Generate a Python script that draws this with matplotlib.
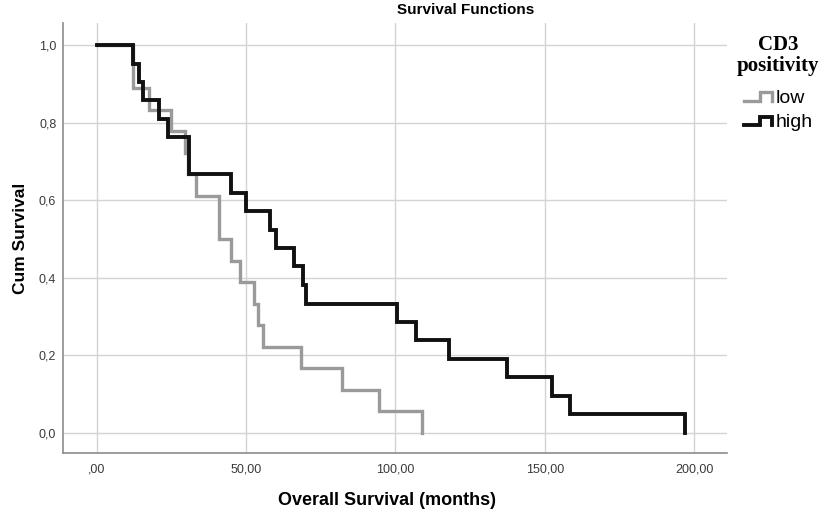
import matplotlib
matplotlib.use("Agg")
import matplotlib.pyplot as plt
from matplotlib.legend_handler import HandlerBase
from matplotlib.lines import Line2D

# step points (months, cumulative survival)
low_time = [0, 12, 17.5, 25, 29.5, 30.5, 33.3, 41, 45, 48, 52.8, 54, 55.5, 68.5, 82, 94.5, 109]
low_surv = [1.0, 0.889, 0.833, 0.778, 0.722, 0.667, 0.611, 0.5, 0.444, 0.389,
            0.333, 0.278, 0.222, 0.167, 0.111, 0.056, 0.0]

high_time = [0, 12, 14, 15.5, 21, 24, 31, 45, 50, 58, 60, 66, 69, 70,
             100.5, 107, 118, 137.5, 152.5, 158.5, 197]
high_surv = [1.0, 0.952, 0.905, 0.857, 0.810, 0.762, 0.667, 0.619, 0.571, 0.524,
             0.476, 0.429, 0.381, 0.333, 0.286, 0.238, 0.190, 0.143, 0.095, 0.048, 0.0]

x_ticks = [0, 50, 100, 150, 200]
x_labels = [",00", "50,00", "100,00", "150,00", "200,00"]
y_ticks = [0.0, 0.2, 0.4, 0.6, 0.8, 1.0]
y_labels = ["0,0", "0,2", "0,4", "0,6", "0,8", "1,0"]

plt.rcParams["font.family"] = ["Liberation Sans", "DejaVu Sans"]


class StepHandler(HandlerBase):
    # little step-shaped legend key like SPSS draws
    def create_artists(self, legend, orig_handle, xdescent, ydescent,
                       width, height, fontsize, trans):
        x0 = -xdescent
        y0 = -ydescent
        xs = [x0, x0 + 0.55 * width, x0 + 0.55 * width, x0 + width, x0 + width]
        ys = [y0 + 0.15 * height, y0 + 0.15 * height, y0 + 0.75 * height,
              y0 + 0.75 * height, y0 + 0.15 * height]
        ln = Line2D(xs, ys, color=orig_handle.get_color(),
                    lw=orig_handle.get_linewidth(), solid_joinstyle="miter")
        ln.set_transform(trans)
        return [ln]


fig = plt.figure(figsize=(8.25, 5.17), dpi=100)
ax = fig.add_axes([0.0767, 0.1232, 0.8041, 0.8329])

low_line, = ax.step(low_time, low_surv, where="post", color="#9a9a9a", lw=2.4,
                    solid_joinstyle="miter", label="low", zorder=3)
high_line, = ax.step(high_time, high_surv, where="post", color="#111111", lw=2.8,
                     solid_joinstyle="miter", label="high", zorder=4)

ax.set_xlim(-11.2, 210.9)
ax.set_ylim(-0.053, 1.0575)
ax.set_xticks(x_ticks)
ax.set_xticklabels(x_labels)
ax.set_yticks(y_ticks)
ax.set_yticklabels(y_labels)
ax.tick_params(length=0, labelsize=9, labelcolor="#3a3a3a")
ax.tick_params(axis="y", pad=5)
ax.tick_params(axis="x", pad=7)
ax.grid(True, color="#d4d4d4", lw=1.0)
ax.set_axisbelow(True)

for s in ["top", "right"]:
    ax.spines[s].set_visible(False)
for s in ["left", "bottom"]:
    ax.spines[s].set_color("#8c8c8c")
    ax.spines[s].set_linewidth(1.2)

ax.set_xlabel("Overall Survival (months)", fontsize=13, fontweight="bold")
ax.set_ylabel("Cum Survival", fontsize=12.5, fontweight="bold")
ax.xaxis.set_label_coords(0.488, -0.11)
ax.xaxis.label.set_va("center")
ax.yaxis.set_label_coords(-0.065, 0.5)
ax.yaxis.label.set_va("center")

fig.text(466 / 825, 1 - 10 / 517, "Survival Functions", fontsize=11,
         fontweight="bold", ha="center", va="center")

leg = fig.legend(handles=[low_line, high_line], labels=["low", "high"],
                 handler_map={Line2D: StepHandler()},
                 loc="upper left", bbox_to_anchor=(737 / 825, 1 - 35 / 517),
                 frameon=False, borderaxespad=0, borderpad=0,
                 handlelength=1.45, handletextpad=0.15, labelspacing=0.35,
                 title="CD3\npositivity",
                 title_fontproperties={"family": "Liberation Serif",
                                       "weight": "bold", "size": 15},
                 prop={"family": "Liberation Sans", "size": 14})
leg.get_title().set_multialignment("center")
leg.get_title().set_linespacing(1.1)
leg._legend_box.sep = 9  # a bit more room between title and entries

plt.savefig("out.png", dpi=100)
